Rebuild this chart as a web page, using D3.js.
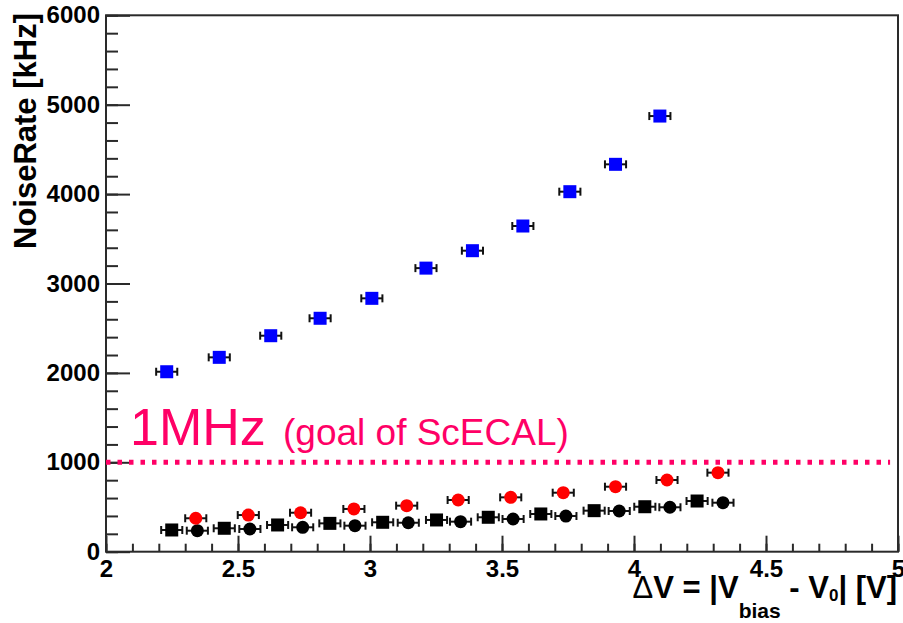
<!DOCTYPE html>
<html>
<head>
<meta charset="utf-8">
<script src="https://cdn.jsdelivr.net/npm/d3@7"></script>
<style>
  html, body { margin: 0; padding: 0; background: #fff; }
  svg { display: block; }
  text { font-family: "Liberation Sans", Arial, Helvetica, sans-serif; }
</style>
</head>
<body>
<svg id="chart" width="903" height="623"></svg>
<script>
// Bias over-voltage (V) and measured noise rate (kHz) per sensor set
const blueX  = [2.230, 2.429, 2.624, 2.811, 3.007, 3.212, 3.388, 3.579, 3.757, 3.930, 4.098];
const blueY  = [2013, 2174, 2416, 2611, 2834, 3172, 3367, 3643, 4027, 4333, 4873];

const blackSqX = [2.249, 2.448, 2.650, 2.848, 3.048, 3.252, 3.448, 3.647, 3.849, 4.041, 4.239];
const blackSqY = [243, 262, 299, 317, 329, 355, 385, 422, 459, 503, 567];

const blackCircX = [2.346, 2.545, 2.745, 2.943, 3.145, 3.343, 3.542, 3.742, 3.944, 4.136, 4.337];
const blackCircY = [235, 254, 273, 291, 324, 336, 366, 399, 455, 497, 548];

const redCircX = [2.340, 2.539, 2.737, 2.939, 3.139, 3.334, 3.533, 3.732, 3.930, 4.125, 4.318];
const redCircY = [374, 410, 436, 478, 515, 578, 608, 660, 727, 802, 884];

// Horizontal uncertainty on the voltage (V)
const xErr = 0.04;

// Target rate line
const goalRate = 1000;

// Axis ticks
const xMajorTicks = [2, 2.5, 3, 3.5, 4, 4.5, 5];
const xTickLabels = ["2", "2.5", "3", "3.5", "4", "4.5", "5"];
const yMajorTicks = [0, 1000, 2000, 3000, 4000, 5000, 6000];
const yTickLabels = ["0", "1000", "2000", "3000", "4000", "5000", "6000"];

const svg = d3.select("#chart");

const plotLeft = 106, plotRight = 898, plotTop = 15.3, plotBottom = 551.7;
const x = d3.scaleLinear().domain([2, 5]).range([plotLeft, plotRight]);
const y = d3.scaleLinear().domain([0, 6000]).range([plotBottom, plotTop]);

const frameColor = "#2a2a2a";

// Minor ticks
const xMinor = d3.range(2, 5.0001, 0.1).map(v => +v.toFixed(2));
const yMinor = d3.range(0, 6001, 200);

svg.append("g")
  .attr("transform", `translate(0,${plotBottom})`)
  .call(d3.axisBottom(x).tickValues(xMinor).tickSizeInner(-8).tickSizeOuter(0).tickFormat(""))
  .call(g => g.select(".domain").remove())
  .call(g => g.selectAll("line").attr("stroke", frameColor).attr("stroke-width", 2));

svg.append("g")
  .attr("transform", `translate(${plotLeft},0)`)
  .call(d3.axisLeft(y).tickValues(yMinor).tickSizeInner(-12).tickSizeOuter(0).tickFormat(""))
  .call(g => g.select(".domain").remove())
  .call(g => g.selectAll("line").attr("stroke", frameColor).attr("stroke-width", 2));

// Major ticks with labels
svg.append("g")
  .attr("transform", `translate(0,${plotBottom})`)
  .call(d3.axisBottom(x).tickValues(xMajorTicks).tickSizeInner(-16).tickSizeOuter(0)
        .tickPadding(8).tickFormat((d, i) => xTickLabels[i]))
  .call(g => g.select(".domain").remove())
  .call(g => g.selectAll("line").attr("stroke", frameColor).attr("stroke-width", 2))
  .call(g => g.selectAll("text").attr("fill", "#000").attr("font-size", 24)
        .attr("font-weight", "bold").style("font-family", "Liberation Sans, Arial, sans-serif"));

svg.append("g")
  .attr("transform", `translate(${plotLeft},0)`)
  .call(d3.axisLeft(y).tickValues(yMajorTicks).tickSizeInner(-24).tickSizeOuter(0)
        .tickPadding(6).tickFormat((d, i) => yTickLabels[i]))
  .call(g => g.select(".domain").remove())
  .call(g => g.selectAll("line").attr("stroke", frameColor).attr("stroke-width", 2))
  .call(g => g.selectAll("text").attr("fill", "#000").attr("font-size", 24)
        .attr("font-weight", "bold").style("font-family", "Liberation Sans, Arial, sans-serif"));

// Frame
svg.append("rect")
  .attr("x", plotLeft).attr("y", plotTop)
  .attr("width", plotRight - plotLeft).attr("height", plotBottom - plotTop)
  .attr("fill", "none").attr("stroke", frameColor).attr("stroke-width", 2);

// Goal line at 1 MHz
const pink = "#ff0066";
svg.append("line")
  .attr("x1", x(2)).attr("x2", x(4.97))
  .attr("y1", y(goalRate)).attr("y2", y(goalRate))
  .attr("stroke", pink).attr("stroke-width", 5)
  .attr("stroke-dasharray", "4.5,7");

svg.append("text")
  .attr("x", 130).attr("y", 445)
  .attr("fill", pink).attr("font-size", 52)
  .text("1MHz");
svg.append("text")
  .attr("x", 283).attr("y", 445)
  .attr("fill", pink).attr("font-size", 37)
  .text("(goal of ScECAL)");

// Data series
const series = [
  { xs: blueX,      ys: blueY,      shape: "square", color: "#0000ff" },
  { xs: blackSqX,   ys: blackSqY,   shape: "square", color: "#000000" },
  { xs: blackCircX, ys: blackCircY, shape: "circle", color: "#000000" },
  { xs: redCircX,   ys: redCircY,   shape: "circle", color: "#ff0000" }
];

const capH = 4, half = 6.5;
series.forEach(s => {
  const pts = s.xs.map((v, i) => ({ x: v, y: s.ys[i] }));
  const g = svg.append("g");
  const eb = g.selectAll("g.err").data(pts).join("g").attr("class", "err")
    .attr("stroke", "#111").attr("stroke-width", 2);
  eb.append("line")
    .attr("x1", d => x(d.x - xErr)).attr("x2", d => x(d.x + xErr))
    .attr("y1", d => y(d.y)).attr("y2", d => y(d.y));
  eb.append("line")
    .attr("x1", d => x(d.x - xErr)).attr("x2", d => x(d.x - xErr))
    .attr("y1", d => y(d.y) - capH).attr("y2", d => y(d.y) + capH);
  eb.append("line")
    .attr("x1", d => x(d.x + xErr)).attr("x2", d => x(d.x + xErr))
    .attr("y1", d => y(d.y) - capH).attr("y2", d => y(d.y) + capH);

  if (s.shape === "square") {
    g.selectAll("rect").data(pts).join("rect")
      .attr("x", d => x(d.x) - half).attr("y", d => y(d.y) - half)
      .attr("width", 2 * half).attr("height", 2 * half)
      .attr("fill", s.color);
  } else {
    g.selectAll("circle").data(pts).join("circle")
      .attr("cx", d => x(d.x)).attr("cy", d => y(d.y))
      .attr("r", half).attr("fill", s.color);
  }
});

// Axis titles
svg.append("text")
  .attr("transform", "translate(36,13) rotate(-90)")
  .attr("text-anchor", "end")
  .attr("font-size", 31).attr("font-weight", "bold")
  .attr("fill", "#000")
  .text("NoiseRate [kHz]");

const xt = svg.append("text")
  .attr("x", 897).attr("y", 598)
  .attr("text-anchor", "end")
  .attr("font-size", 31).attr("font-weight", "bold")
  .attr("fill", "#000");
xt.append("tspan").attr("font-weight", "normal").text("\u0394");
xt.append("tspan").text("V = |V");
xt.append("tspan").attr("font-size", 21).attr("dy", 20).text("bias");
xt.append("tspan").attr("dy", -20).text(" - V");
xt.append("tspan").attr("font-size", 17).attr("dy", 3).text("0");
xt.append("tspan").attr("dy", -3).text("| [V]");
</script>
</body>
</html>
